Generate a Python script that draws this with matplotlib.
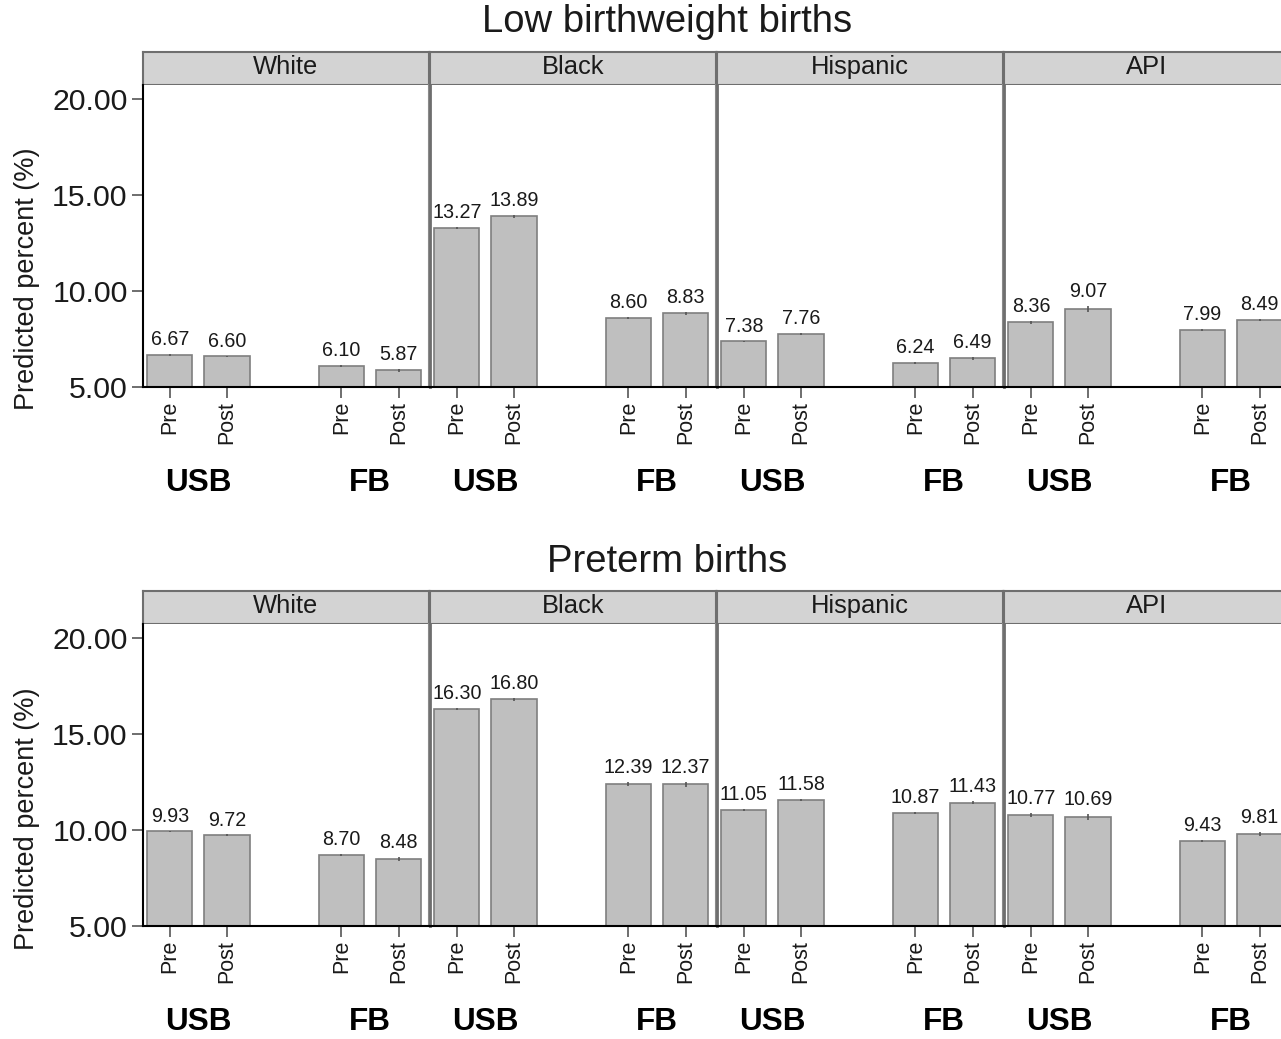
import matplotlib
matplotlib.use('Agg')
import matplotlib.pyplot as plt
from matplotlib.transforms import blended_transform_factory

plt.rcParams['font.family'] = ['Liberation Sans', 'DejaVu Sans']

# Data
races = ['White', 'Black', 'Hispanic', 'API']
periods = ['Pre', 'Post', 'Pre', 'Post']
groups = ['USB', 'FB']
titles = ['Low birthweight births', 'Preterm births']

# per race: [USB Pre, USB Post, FB Pre, FB Post]
lbw_vals = [[6.67, 6.60, 6.10, 5.87],
            [13.27, 13.89, 8.60, 8.83],
            [7.38, 7.76, 6.24, 6.49],
            [8.36, 9.07, 7.99, 8.49]]
lbw_err = [[0.03, 0.03, 0.05, 0.07],
           [0.05, 0.07, 0.07, 0.10],
           [0.04, 0.04, 0.05, 0.07],
           [0.10, 0.15, 0.05, 0.07]]
pt_vals = [[9.93, 9.72, 8.70, 8.48],
           [16.30, 16.80, 12.39, 12.37],
           [11.05, 11.58, 10.87, 11.43],
           [10.77, 10.69, 9.43, 9.81]]
pt_err = [[0.04, 0.05, 0.07, 0.10],
          [0.07, 0.08, 0.12, 0.12],
          [0.04, 0.05, 0.06, 0.07],
          [0.10, 0.15, 0.07, 0.10]]

yticks = [5, 10, 15, 20]

W, H = 1281, 1039
fig = plt.figure(figsize=(W / 100, H / 100), dpi=100)


def box(x0, y0, x1, y1):
    # pixel box (top-left origin) -> figure fraction rect
    return [x0 / W, 1 - y1 / H, (x1 - x0) / W, (y1 - y0) / H]


xpos = [1, 2, 4, 5]
panel_left = [143, 430, 717, 1004]
panel_w = 286
TXT = '#1a1a1a'

rows = [
    dict(vals=lbw_vals, err=lbw_err, title=titles[0], strip=(52, 85), plot=(85, 387),
         title_y=22, group_y=483, ylab_y=279),
    dict(vals=pt_vals, err=pt_err, title=titles[1], strip=(591, 624), plot=(624, 926),
         title_y=562, group_y=1022, ylab_y=819),
]

for row in rows:
    s0, s1 = row['strip']
    p0, p1 = row['plot']
    ymin = 5.0
    ymax = 5.0 + (p1 - p0) / 19.2
    for i, race in enumerate(races):
        xl = panel_left[i]
        # strip
        sax = fig.add_axes(box(xl, s0, xl + panel_w, s1))
        sax.set_facecolor('#d3d3d3')
        sax.set_xticks([])
        sax.set_yticks([])
        for sp in sax.spines.values():
            sp.set_color('#6e6e6e')
            sp.set_linewidth(1.5)
        sax.text(0.5, 0.56, race, ha='center', va='center', fontsize=18.4,
                 color=TXT, transform=sax.transAxes)

        # panel
        ax = fig.add_axes(box(xl, p0, xl + panel_w, p1))
        v = row['vals'][i]
        e = row['err'][i]
        ax.bar(xpos, [val - ymin for val in v], bottom=ymin, width=0.79,
               color='#bfbfbf', edgecolor='#7f7f7f', linewidth=1.2, zorder=2)
        ax.errorbar(xpos, v, yerr=e, fmt='none', ecolor='#555555',
                    elinewidth=1.2, capsize=0, zorder=3)
        for x, val, er in zip(xpos, v, e):
            ax.annotate(f'{val:.2f}', (x, val + er), xytext=(0, 3.5),
                        textcoords='offset points', ha='center', va='bottom',
                        fontsize=14.2, color=TXT)
        ax.set_xlim(0.53, 5.53)
        ax.set_ylim(ymin, ymax)
        ax.set_xticks(xpos)
        ax.set_xticklabels(periods, rotation=90, fontsize=15.5, color=TXT)
        ax.tick_params(axis='x', length=8, width=1.2, color='#555555', pad=2)
        ax.spines['top'].set_visible(False)
        ax.spines['bottom'].set_color('black')
        ax.spines['bottom'].set_linewidth(1.5)
        if i == 0:
            ax.spines['left'].set_color('black')
            ax.spines['left'].set_linewidth(1.5)
            ax.set_yticks(yticks)
            ax.set_yticklabels([f'{t:.2f}' for t in yticks], fontsize=21.8, color=TXT)
            ax.tick_params(axis='y', length=8, width=1.2, color='#555555', pad=3)
        else:
            ax.spines['left'].set_color('#6e6e6e')
            ax.spines['left'].set_linewidth(2)
            ax.set_yticks([])
        if i < len(races) - 1:
            ax.spines['right'].set_color('#8a8a8a')
            ax.spines['right'].set_linewidth(1.5)
        else:
            ax.spines['right'].set_visible(False)

        trans = blended_transform_factory(ax.transData, fig.transFigure)
        for gx, g in zip([1.5, 4.5], groups):
            ax.text(gx, 1 - row['group_y'] / H, g, ha='center', va='center',
                    fontsize=22.7, fontweight='bold', color='black', transform=trans)

    fig.text(667 / W, 1 - row['title_y'] / H, row['title'], ha='center', va='center',
             fontsize=27.5, color=TXT)
    fig.text(27 / W, 1 - row['ylab_y'] / H, 'Predicted percent (%)', rotation=90,
             ha='center', va='center', fontsize=19.5, color=TXT)

fig.savefig('out.png', dpi=100)
